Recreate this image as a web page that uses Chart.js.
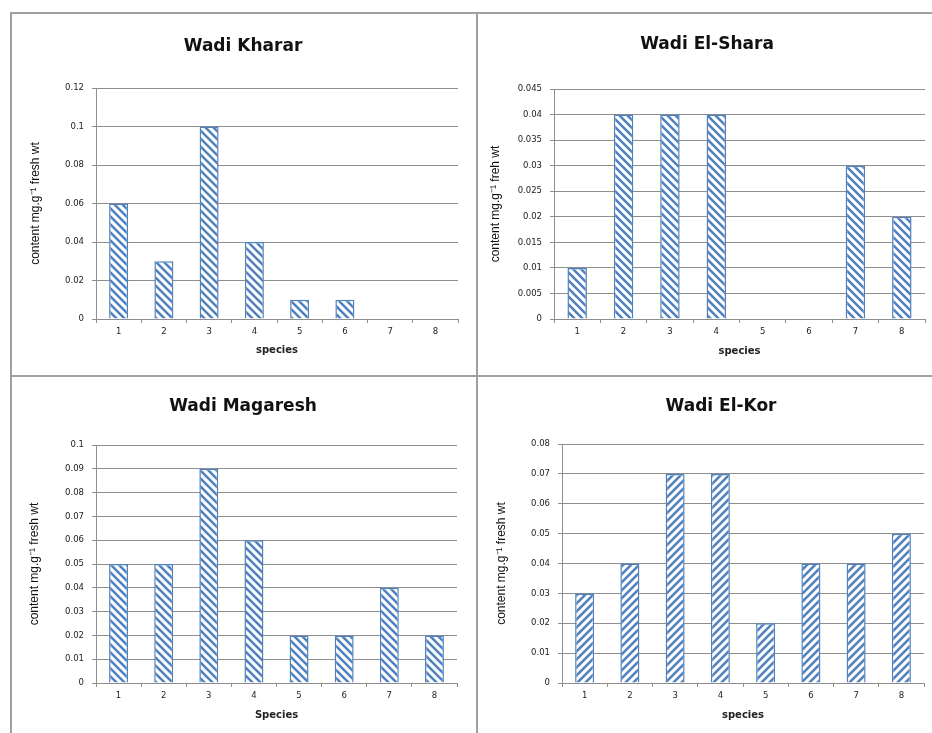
<!DOCTYPE html>
<html><head><meta charset="utf-8">
<script src="https://cdn.jsdelivr.net/npm/chart.js@4.4.0/dist/chart.umd.min.js"></script>
<style>
html,body{margin:0;padding:0;background:#fff;width:932px;height:733px;overflow:hidden;}
canvas{position:absolute;}
.ln{position:absolute;background:#a0a0a0;z-index:5;}
</style></head><body>
<canvas id="c0" width="466" height="364" style="left:10px;top:12px"></canvas>
<canvas id="c1" width="462" height="364" style="left:476px;top:12px"></canvas>
<canvas id="c2" width="466" height="357" style="left:10px;top:376px"></canvas>
<canvas id="c3" width="490" height="357" style="left:476px;top:376px"></canvas>
<div class="ln" style="left:10px;top:12px;width:930px;height:2px"></div>
<div class="ln" style="left:10px;top:12px;width:2px;height:730px"></div>
<div class="ln" style="left:476px;top:12px;width:2px;height:730px"></div>
<div class="ln" style="left:10px;top:375px;width:930px;height:2px"></div>
<script>
// ---- data ----
const species = ['1','2','3','4','5','6','7','8'];
const chartTitles = ['Wadi Kharar','Wadi El-Shara','Wadi Magaresh','Wadi El-Kor'];
const kharar   = [0.06, 0.03, 0.10, 0.04, 0.01, 0.01, 0, 0];
const elShara  = [0.01, 0.04, 0.04, 0.04, 0, 0, 0.03, 0.02];
const magaresh = [0.05, 0.05, 0.09, 0.06, 0.02, 0.02, 0.04, 0.02];
const elKor    = [0.03, 0.04, 0.07, 0.07, 0.02, 0.04, 0.04, 0.05];
const yMaxima  = [0.12, 0.045, 0.1, 0.08];
const ySteps   = [0.02, 0.005, 0.01, 0.01];
const yTitles  = ['content mg.g\u207B\u00B9 fresh wt','content mg.g\u207B\u00B9 freh wt','content mg.g\u207B\u00B9 fresh wt','content mg.g\u207B\u00B9 fresh wt'];
const xTitles  = ['species','species','Species','species'];

// ---- layout (canvas px) ----
const geo = [
  {left:86, right:18, top:76, bottom:57, titleC:35, yTitleC:25.5, xTitleOff:26, hatch:'\\'},
  {left:78, right:13, top:77, bottom:57, titleC:33, yTitleC:19.5, xTitleOff:24.3, hatch:'\\'},
  {left:86, right:19, top:69, bottom:50, titleC:31, yTitleC:25, xTitleOff:17.3, hatch:'\\'},
  {left:86, right:42, top:68, bottom:50, titleC:31, yTitleC:26, xTitleOff:17.3, hatch:'/'}
];
const series = [kharar, elShara, magaresh, elKor];
const BLUE = '#4F81BD', GRID = '#8e8e8e';

function hatch(dir){
  const s = 8, c = document.createElement('canvas');
  c.width = c.height = s;
  const g = c.getContext('2d');
  g.fillStyle = '#fff'; g.fillRect(0,0,s,s);
  g.strokeStyle = BLUE; g.lineWidth = 2.5; g.lineCap = 'square';
  g.beginPath();
  for (let k=-1;k<=1;k++){
    if (dir === '\\'){ g.moveTo(k*s,0); g.lineTo(k*s+s,s); }
    else { g.moveTo(k*s,s); g.lineTo(k*s+s,0); }
  }
  g.stroke();
  return g.createPattern(c,'repeat');
}
function fmt(v){ return String(parseFloat(Number(v).toFixed(4))); }

series.forEach((data,i)=>{
  const G = geo[i];
  const ctx = document.getElementById('c'+i).getContext('2d');
  const tFont = 17, tLH = tFont*1.2;
  new Chart(ctx, {
    type:'bar',
    data:{ labels:species, datasets:[{ data:data, backgroundColor:hatch(G.hatch), borderColor:BLUE, borderWidth:1.5, barPercentage:0.42, categoryPercentage:1 }]},
    options:{
      responsive:false, animation:false,
      layout:{padding:0},
      plugins:{
        legend:{display:false}, tooltip:{enabled:false},
        title:{display:true, text:chartTitles[i], color:'#111',
          font:{family:'DejaVu Sans', size:tFont, weight:'bold', lineHeight:1.2},
          padding:{top:G.titleC - tLH/2, bottom:G.top - G.titleC - tLH/2}}
      },
      scales:{
        x:{ offset:true,
          grid:{display:true, drawOnChartArea:false, drawTicks:true, tickLength:4, color:GRID, offset:true},
          border:{display:true, color:GRID, width:1},
          ticks:{color:'#222', padding:4, font:{family:'DejaVu Sans', size:8.5}, maxRotation:0},
          title:{display:true, text:xTitles[i], color:'#222', font:{family:'DejaVu Sans', size:10, weight:'bold'}, padding:{top:0,bottom:G.xTitleOff-6}},
          afterFit:(s)=>{ s.height = G.bottom; }
        },
        y:{ min:0, max:yMaxima[i],
          grid:{color:GRID, tickLength:4, lineWidth:1},
          border:{display:true, color:GRID, width:1},
          ticks:{stepSize:ySteps[i], color:'#222', padding:8, font:{family:'DejaVu Sans', size:8.5}, callback:(v)=>fmt(v)},
          title:{display:true, text:yTitles[i], color:'#111', font:{family:'Liberation Sans Narrow, Liberation Sans', size:12}, padding:{top:G.yTitleC - 7.2, bottom:0}},
          afterFit:(s)=>{ s.width = G.left; }
        },
        pad:{ position:'right', display:true, ticks:{display:false}, grid:{display:false}, border:{display:false}, title:{display:false},
          afterFit:(s)=>{ s.width = G.right; } }
      }
    }
  });
});
</script>
</body></html>
